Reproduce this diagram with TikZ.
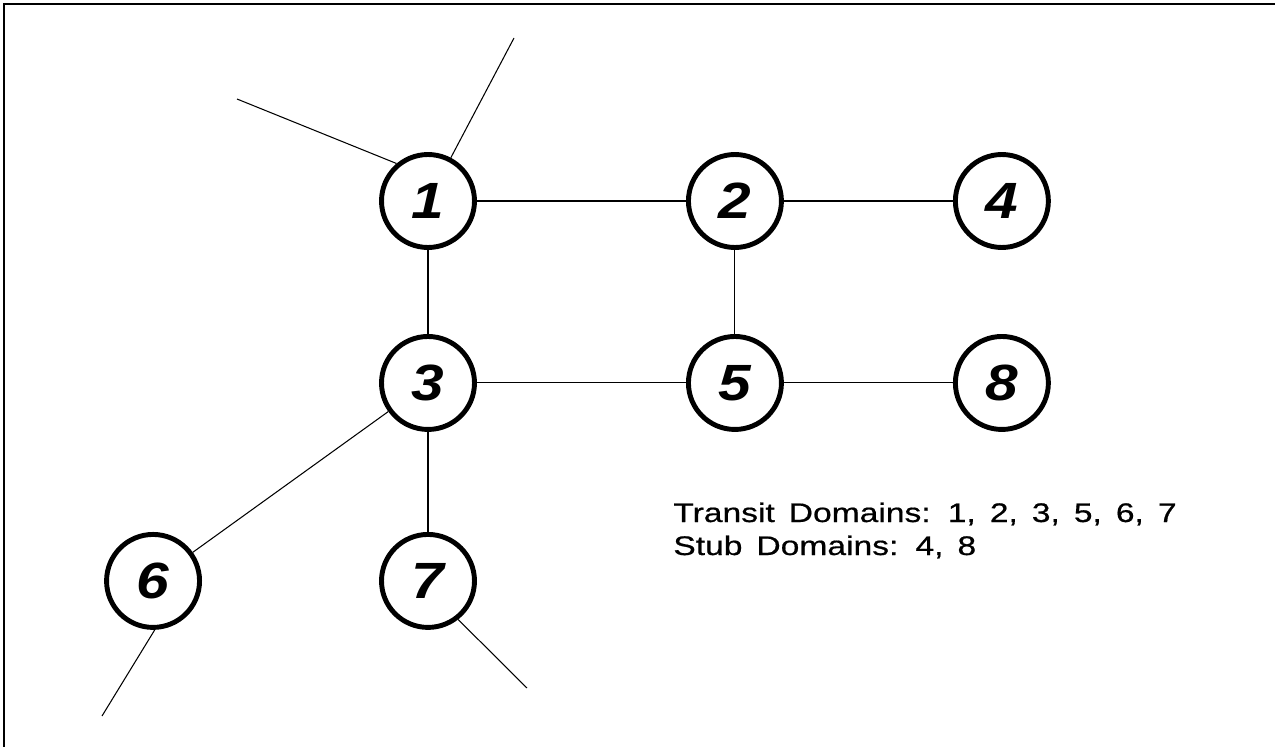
\documentclass[tikz,border=0pt]{standalone}
\usepackage{fontspec}
\usepackage{tikz}
\usetikzlibrary{positioning}
\newfontfamily\domfont[FakeStretch=1.15]{Liberation Sans}
\newfontfamily\legendfont[FakeStretch=1.25,WordSpace=1.5,FakeBold=0.6]{Liberation Sans}

\begin{document}
\begin{tikzpicture}[
    x=0.02cm, y=-0.02cm,
    dom/.style={circle, draw, line width=2.8pt, minimum size=1.86cm, inner sep=0pt,
                font=\domfont\bfseries\itshape\fontsize{29}{32}\selectfont},
    link/.style={line width=0.6pt},
    legend/.style={inner sep=0pt, font=\legendfont\fontsize{15.3}{18}\selectfont}
]

\useasboundingbox (0,0) rectangle (1275,747);
\draw[line width=1.2pt] (4,747) -- (4,4) -- (1275,4);

\node[dom] (n1) at (428,201) {1};
\node[dom, right of=n1, node distance=6.14cm] (n2) {2};
\node[dom, right of=n2, node distance=5.34cm] (n4) {4};
\node[dom, below of=n1, node distance=3.64cm] (n3) {3};
\node[dom, below of=n2, node distance=3.64cm] (n5) {5};
\node[dom, right of=n5, node distance=5.34cm] (n8) {8};
\node[dom, below of=n3, node distance=3.96cm] (n7) {7};
\node[dom, left of=n7, node distance=5.5cm] (n6) {6};

\coordinate (out1a) at (514,38);
\coordinate (out1b) at (237,99);
\coordinate (out6) at (102,716);
\coordinate (out7) at (527,688);

\draw[link] (n1) -- (n2);
\draw[link] (n2) -- (n4);
\draw[link] (n1) -- (n3);
\draw[link] (n2) -- (n5);
\draw[link] (n3) -- (n5);
\draw[link] (n5) -- (n8);
\draw[link] (n3) -- (n6);
\draw[link] (n3) -- (n7);
\draw[link] (n1) -- (out1a);
\draw[link] (n1.130) -- (out1b);
\draw[link] (n6.-88) -- (out6);
\draw[link] (n7.-52) -- (out7);

\node[legend, anchor=base west] (transit) at (673,522) {Transit Domains: 1, 2, 3, 5, 6, 7};
\node[legend, anchor=base west] (stub) at ([yshift=-0.66cm]transit.base west) {Stub Domains: 4, 8};

\end{tikzpicture}
\end{document}
